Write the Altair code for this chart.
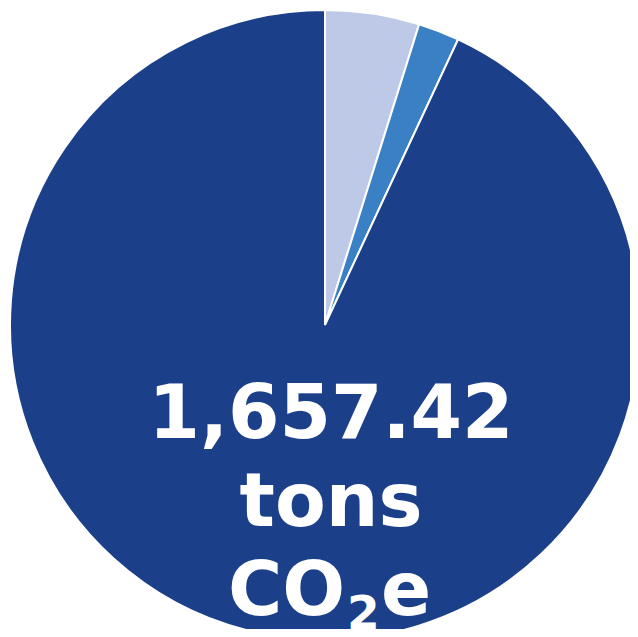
import altair as alt
import pandas as pd

categories = ["Category A", "Category B", "Category C"]
values = [80.0, 35.0, 1542.42]
colors = ["#bec8e7", "#3a80c4", "#1c3f8a"]
label_lines = ["1,657.42", "tons"]
unit_parts = ["CO", "2", "e"]

df = pd.DataFrame({"category": categories, "value": values, "order": [0, 1, 2]})

pie = alt.Chart(df).mark_arc(radius=315, stroke="white", strokeWidth=2).encode(
    theta=alt.Theta("value:Q", stack=True),
    color=alt.Color("category:N", scale=alt.Scale(domain=categories, range=colors), legend=None),
    order=alt.Order("order:Q"),
    x=alt.value(317),
    y=alt.value(317),
)

txt = dict(font="DejaVu Sans", fontWeight="bold", color="white", baseline="alphabetic")

label = alt.Chart(pd.DataFrame({"t": [label_lines]})).mark_text(
    fontSize=74, align="center", lineHeight=88, **txt
).encode(text="t", x=alt.value(323), y=alt.value(430))

co = alt.Chart(pd.DataFrame({"t": [unit_parts[0]]})).mark_text(
    fontSize=74, align="left", **txt
).encode(text="t", x=alt.value(220), y=alt.value(607))

sub2 = alt.Chart(pd.DataFrame({"t": [unit_parts[1]]})).mark_text(
    fontSize=47, align="left", **txt
).encode(text="t", x=alt.value(339), y=alt.value(621))

e = alt.Chart(pd.DataFrame({"t": [unit_parts[2]]})).mark_text(
    fontSize=74, align="left", **txt
).encode(text="t", x=alt.value(373), y=alt.value(607))

chart = alt.layer(pie, label, co, sub2, e).properties(
    width=622, height=621, padding=0,
    autosize=alt.AutoSizeParams(type="none"),
).configure_view(stroke=None)

chart.save("out.html", embed_options={"renderer": "svg", "actions": False})
